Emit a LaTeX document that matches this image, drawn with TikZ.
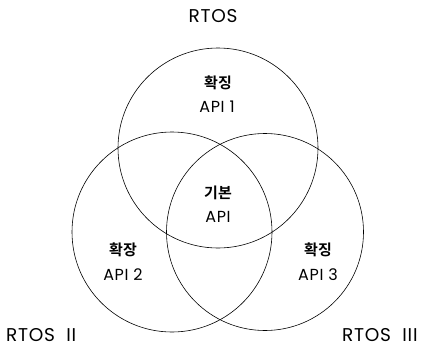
\documentclass[tikz,border=0pt]{standalone}
\usepackage{fontspec}
\setmainfont{Poppins}[LetterSpace=4]
\newfontfamily\kor{Noto Sans CJK KR Bold}
\begin{document}
\begin{tikzpicture}[x=1pt,y=-1pt,
  ring/.style={draw=black, line width=0.6pt},
  lbl/.style={font=\fontsize{18.5}{20}\selectfont, inner sep=0pt},
  api/.style={font=\fontsize{16}{18}\selectfont, inner sep=0pt, align=center},
  kr/.style={font=\fontsize{15}{17}\selectfont\kor, inner sep=0pt}]
\useasboundingbox (0,0) rectangle (429,349);
\node[ring, circle, minimum size=200pt, inner sep=0pt] (c1) at (218,148) {};
\node[ring, circle, minimum size=200pt, inner sep=0pt] (c2) at (172,232) {};
\node[ring, circle, minimum size=197pt, inner sep=0pt] (c3) at (265,232) {};
\node[lbl] (t1) at (213,16) {RTOS};
\node[lbl, anchor=west] (t2) at (6,335) {RTOS\ \ II};
\node[lbl, anchor=west] (t3) at (342,335) {RTOS\ \ III};
\node[kr] (k1) at (218,83) {확징};
\node[api] (a1) at (217,107) {API 1};
\node[kr] (k0) at (218,193) {기본};
\node[api] (a0) at (218,217) {API};
\node[kr] (k2) at (123,250) {확장};
\node[api] (a2) at (123,275) {API 2};
\node[kr] (k3) at (318,250) {확징};
\node[api] (a3) at (318,275) {API 3};
\end{tikzpicture}
\end{document}
